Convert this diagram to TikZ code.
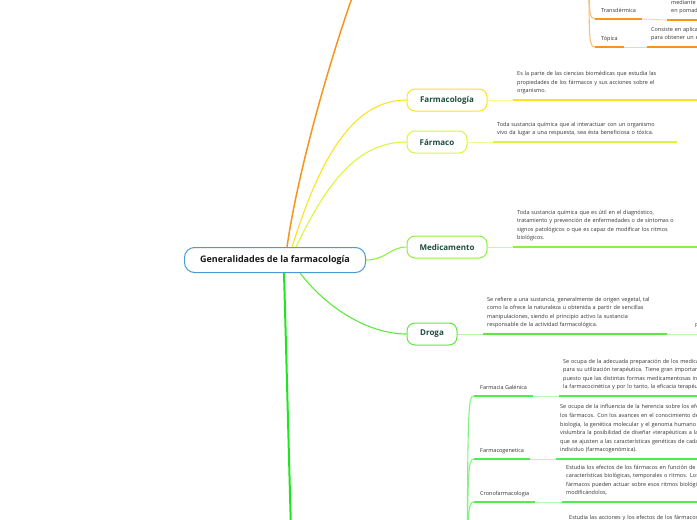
\documentclass[tikz,border=0pt]{standalone}
\usepackage{fontspec}
\setmainfont{Open Sans}
\usetikzlibrary{positioning}

\definecolor{rootblue}{HTML}{4A9AD4}
\definecolor{labelgreen}{HTML}{1D4D3B}
\definecolor{txtgray}{HTML}{333333}
\definecolor{orangeb}{HTML}{F7941D}
\definecolor{yellowb}{HTML}{FFE21F}
\definecolor{limeb}{HTML}{DDF53A}
\definecolor{medgreen}{HTML}{8DF03F}
\definecolor{drogagreen}{HTML}{5BEA3C}
\definecolor{trunkgreen}{HTML}{1EE61E}
\definecolor{subgreen}{HTML}{4DEE4D}

\begin{document}
\begin{tikzpicture}[
  x=1pt, y=-1pt,
  rootbox/.style={rectangle, rounded corners=10pt, draw=rootblue, line width=1pt,
    fill=white, minimum width=181pt, minimum height=25pt,
    font=\fontsize{9}{11}\selectfont\bfseries, text=black!90},
  topicbox/.style={rectangle, rounded corners=8pt, line width=1pt, fill=white,
    minimum height=22pt, font=\fontsize{8}{9.5}\selectfont\bfseries, text=labelgreen},
  desc/.style={anchor=south west, inner xsep=4pt, inner ysep=4.4pt,
    text width=176pt, align=left, font=\fontsize{5.5}{8.6}\selectfont, text=txtgray,
    execute at end node={\strut}},
  leaf/.style={anchor=south west, inner xsep=6pt, inner ysep=5pt, text depth=1.5pt,
    font=\fontsize{5.5}{8.6}\selectfont, text=txtgray},
  uline/.style={line width=1.8pt},
  thinlink/.style={line width=0.9pt},
  branch/.style={line width=1.1pt}
]
\useasboundingbox (0,0) rectangle (697,520);
\clip (0,0) rectangle (697,520);

% central topic
\node[rootbox] (root) at (275,260) {Generalidades de la farmacología};

% main topics
\node[topicbox, draw=yellowb, minimum width=80pt] (farmacologia) at (447,100) {Farmacología};
\node[topicbox, draw=limeb, minimum width=60pt] (farmaco) at (437,142) {Fármaco};
\node[topicbox, draw=medgreen, minimum width=80pt] (medicamento) at (447,247) {Medicamento};
\node[topicbox, draw=drogagreen, minimum width=50pt] (droga) at (432,334) {Droga};

% their descriptions
\node[desc] (farmacologiadesc) at (513,100) {Es la parte de las ciencias biomédicas que estudia las\\propiedades de los fármacos y sus acciones sobre el\\organismo.};
\node[desc] (farmacodesc) at (493,142) {Toda sustancia química que al interactuar con un organismo\\vivo da lugar a una respuesta, sea ésta beneficiosa o tóxica.};
\node[desc] (medicamentodesc) at (513,247) {Toda sustancia química que es útil en el diagnóstico,\\tratamiento y prevención de enfermedades o de síntomas o\\signos patológicos o que es capaz de modificar los ritmos\\biológicos.};
\node[desc] (drogadesc) at (483,334) {Se refiere a una sustancia, generalmente de origen vegetal, tal\\como la ofrece la naturaleza u obtenida a partir de sencillas\\manipulaciones, siendo el principio activo la sustancia\\responsable de la actividad farmacológica.};
\node[leaf] (drogamas) at (689,334) {F};

% orange branch (top)
\coordinate (orangetop) at (353,-5);
\coordinate (orangeparent) at (589,-30);
\node[leaf] (transdermica) at (595,19) {Transdérmica};
\node[leaf] (topica) at (595,47) {Tópica};
\node[desc, text width=120pt] (transdermicadesc) at (667,20) {mediante\\en pomada};
\node[desc, text width=120pt] (topicadesc) at (647,47) {Consiste en aplicar el fármaco\\para obtener un efecto local.};

% green branch (bottom)
\coordinate (greenbottom) at (291,530);
\coordinate (subparent) at (467,570);
\node[leaf] (galenica) at (474,396) {Farmacia Galénica};
\node[leaf] (farmacogenetica) at (474,459) {Farmacogenetica};
\node[leaf] (crono) at (474,502) {Cronofarmacologia};
\coordinate (cuarto) at (474,545);
\node[desc, text width=200pt] (galenicadesc) at (559,396) {Se ocupa de la adecuada preparación de los medicamentos\\para su utilización terapéutica. Tiene gran importancia\\puesto que las distintas formas medicamentosas influyen en\\la farmacocinética y por lo tanto, la eficacia terapéutica.};
\node[desc, text width=200pt] (farmacogeneticadesc) at (556,459) {Se ocupa de la influencia de la herencia sobre los efectos de\\los fármacos. Con los avances en el conocimiento de la\\biología, la genética molecular y el genoma humano se\\vislumbra la posibilidad de diseñar «terapéuticas a la carta»\\que se ajusten a las características genéticas de cada\\individuo (farmacogenómica).};
\node[desc, text width=200pt] (cronodesc) at (562,502) {Estudia los efectos de los fármacos en función de las\\características biológicas, temporales o ritmos. Los\\fármacos pueden actuar sobre esos ritmos biológicos\\modificándolos,};
\node[desc, text width=200pt] (cuartodesc) at (565,544) {Estudia las acciones y los efectos de los fármacos en\\el organismo según su edad, su sexo y su\\estado fisiológico o patológico.};

% connectors from the root
\draw[branch, orangeb, line width=1.5pt] ([xshift=12pt]root.north) .. controls (298,170) and (330,60) .. (orangetop);
\draw[branch, yellowb] ([xshift=17pt]root.north) .. controls (318,165) and (350,100) .. (farmacologia.west);
\draw[branch, limeb] ([xshift=21pt]root.north) .. controls (326,185) and (356,142) .. (farmaco.west);
\draw[branch, medgreen] (root.east) .. controls (386,260) and (390,247) .. (medicamento.west);
\draw[branch, drogagreen] ([xshift=25pt]root.south) .. controls (330,312) and (372,334) .. (droga.west);
\draw[branch, trunkgreen, line width=2pt] ([xshift=9pt]root.south) .. controls (287,380) and (289,460) .. (greenbottom);

% topics to descriptions
\draw[thinlink, yellowb!45] (farmacologia.east) -- (farmacologiadesc.south west);
\draw[uline, yellowb] (farmacologiadesc.south west) -- (farmacologiadesc.south east);
\draw[thinlink, limeb!55] (farmaco.east) -- (farmacodesc.south west);
\draw[uline, limeb] (farmacodesc.south west) -- (farmacodesc.south east);
\draw[thinlink, medgreen!50] (medicamento.east) -- (medicamentodesc.south west);
\draw[uline, medgreen] (medicamentodesc.south west) -- (medicamentodesc.south east);
\draw[thinlink, drogagreen!45] (droga.east) -- (drogadesc.south west);
\draw[uline, drogagreen] (drogadesc.south west) -- (drogadesc.south east);
\draw[thinlink, drogagreen!40] (drogadesc.south east) -- (drogamas.south east);

% orange leaves
\draw[branch, orangeb!60] (orangeparent) .. controls (589,12) and (589,19) .. (transdermica.south west);
\draw[branch, orangeb!60] (orangeparent) .. controls (589,40) and (589,47) .. (topica.south west);
\draw[uline, orangeb] (transdermica.south west) -- (transdermica.south east);
\draw[thinlink, orangeb!40] (transdermica.south east) -- (transdermicadesc.south west);
\draw[uline, orangeb] (transdermicadesc.south west) -- (transdermicadesc.south east);
\draw[uline, orangeb] (topica.south west) -- (topica.south east);
\draw[thinlink, orangeb!40] (topica.south east) -- (topicadesc.south west);
\draw[uline, orangeb] (topicadesc.south west) -- (topicadesc.south east);

% green leaves
\draw[branch, subgreen!70] (subparent) .. controls (468,406) and (468,396) .. (galenica.south west);
\draw[branch, subgreen!70] (subparent) .. controls (468,469) and (468,459) .. (farmacogenetica.south west);
\draw[branch, subgreen!70] (subparent) .. controls (468,512) and (468,502) .. (crono.south west);
\draw[branch, subgreen!70] (subparent) .. controls (468,555) and (468,545) .. (cuarto);
\foreach \leafname in {galenica, farmacogenetica, crono} {
  \draw[uline, subgreen] (\leafname.south west) -- (\leafname.south east);
  \draw[thinlink, subgreen!40] (\leafname.south east) -- (\leafname desc.south west);
  \draw[uline, subgreen] (\leafname desc.south west) -- (\leafname desc.south east);
}
\end{tikzpicture}
\end{document}
